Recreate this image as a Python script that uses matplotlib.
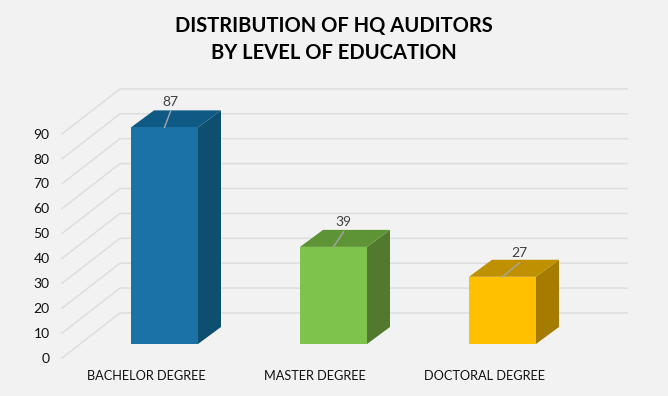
import matplotlib.pyplot as plt

plt.rcParams['font.family'] = ['Lato', 'DejaVu Sans']

categorias = ['BACHELOR DEGREE', 'MASTER DEGREE', 'DOCTORAL DEGREE']
valores = [87, 39, 27]
ticks = [0, 10, 20, 30, 40, 50, 60, 70, 80, 90]
titulo = 'DISTRIBUTION OF HQ AUDITORS\nBY LEVEL OF EDUCATION'

color_frente = ['#1a72a6', '#7ec44c', '#ffc000']
color_arriba = ['#0f5a85', '#5e9436', '#bf9000']
color_lado = ['#0e4e6f', '#527a2f', '#a67c00']
color_fondo = '#f2f2f2'
color_grilla = '#dedede'

# escala: 169 px entre barras, 2.49 px por unidad
px_x = 169.0
px_y = 2.49
ancho = 67 / px_x
prof_x = 23 / px_x   # profundidad de las barras
prof_y = 17 / px_y
pared_izq = (62 - 164.5) / px_x
pared_fondo = (120 - 164.5) / px_x
fin_grilla = (627 - 164.5) / px_x
frente_y = -14 / px_y
fondo_y = 31 / px_y

fig = plt.figure(figsize=(6.68, 3.96), dpi=100, facecolor=color_fondo)
ax = fig.add_axes([0, 0, 1, 1])
ax.set_xlim(-164.5 / px_x, (668 - 164.5) / px_x)
ax.set_ylim(-52 / px_y, 344 / px_y)
ax.axis('off')

# grilla: diagonal en el piso/pared y linea horizontal al fondo
for t in ticks:
    ax.plot([pared_izq, pared_fondo, fin_grilla], [t + frente_y, t + fondo_y, t + fondo_y],
            color=color_grilla, lw=1.1, zorder=1, solid_joinstyle='miter')
    ax.text(-115 / px_x, t + frente_y - 0.3, str(t), ha='right', va='center', fontsize=10, color='#111111')

# desplazamiento de la etiqueta respecto al centro de la barra
etiqueta_dx = [6, 10, 17]
etiqueta_dy = [16, 15, 14]

for i, v in enumerate(valores):
    izq = i - ancho / 2
    der = i + ancho / 2
    ax.fill([der, der + prof_x, der + prof_x, der], [0, prof_y, v + prof_y, v], color=color_lado[i], lw=0, zorder=2)
    ax.fill([izq, der, der + prof_x, izq + prof_x], [v, v, v + prof_y, v + prof_y], color=color_arriba[i], lw=0, zorder=2)
    ax.bar(i, v, width=ancho, color=color_frente[i], zorder=3)
    dx = etiqueta_dx[i] / px_x
    dy = etiqueta_dy[i] / px_y
    ax.plot([i, i + dx], [v, v + dy], color='#a6a6a6', lw=1, zorder=4)
    ax.text(i + dx, v + dy + 1.5, str(v), ha='center', va='bottom', fontsize=10, color='#404040', zorder=5)
    ax.text(i - 18.5 / px_x, -32.5 / px_y, categorias[i], ha='center', va='center', fontsize=9.2, color='#111111')

fig.text(0.5, 0.9, titulo, ha='center', va='center', fontsize=14.5, fontweight='bold',
         color='black', linespacing=1.45)

fig.savefig('out.png', dpi=100, facecolor=color_fondo)
